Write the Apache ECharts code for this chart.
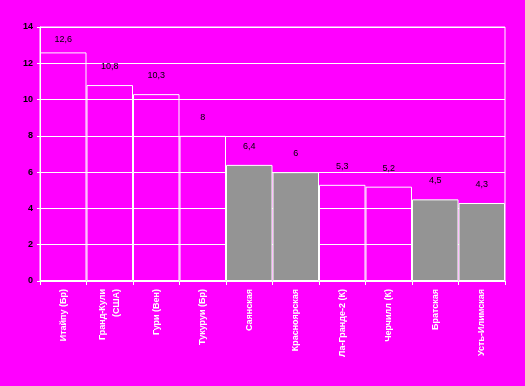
<!DOCTYPE html>
<html><head><meta charset="utf-8">
<script src="https://cdn.jsdelivr.net/npm/echarts@6/dist/echarts.min.js"></script>
<style>html,body{margin:0;padding:0;background:#ff00ff;}#c{width:525px;height:386px;}</style>
</head><body><div id="c"></div>
<script>
const categories = ["Итайпу (Бр)", "Гранд-Кули\n(США)", "Гури (Вен)", "Тукуруи (Бр)", "Саянская", "Красноярская", "Ла-Гранде-2 (К)", "Черчилл (К)", "Братская", "Усть-Илимская"];
const values = [12.6, 10.8, 10.3, 8, 6.4, 6, 5.3, 5.2, 4.5, 4.3];
const russian = [false, false, false, false, true, true, false, false, true, true];
const yTicks = [0, 2, 4, 6, 8, 10, 12, 14];

const chart = echarts.init(document.getElementById('c'));
const data = values.map((v, i) => ({
  value: v,
  itemStyle: { color: russian[i] ? '#949494' : 'rgba(0,0,0,0)', borderColor: '#ffffff', borderWidth: 1 },
  label: { distance: i === 0 ? 8 : 14 }
}));
chart.setOption({
  backgroundColor: '#ff00ff',
  animation: false,
  grid: { left: 40, right: 20, top: 27, bottom: 105, show: true, borderColor: '#ffffff', borderWidth: 1, backgroundColor: 'transparent' },
  xAxis: {
    type: 'category', data: categories,
    axisLine: { lineStyle: { color: '#ffffff', width: 1 } },
    axisTick: { show: true, alignWithLabel: false, length: 4, lineStyle: { color: '#ffffff' } },
    axisLabel: { rotate: 90, color: '#ffffff', fontSize: 9, fontFamily: 'Liberation Sans, Arial', fontWeight: 'bold', margin: 8, interval: 0, lineHeight: 14 }
  },
  yAxis: {
    type: 'value', min: yTicks[0], max: yTicks[yTicks.length - 1], interval: 2,
    axisLine: { show: true, lineStyle: { color: '#ffffff', width: 1 } },
    axisTick: { show: true, length: 3, lineStyle: { color: '#ffffff' } },
    splitLine: { show: true, lineStyle: { color: '#ffffff', width: 1 } },
    axisLabel: { color: '#000000', fontSize: 9, fontFamily: 'Liberation Sans, Arial', fontWeight: 'bold', margin: 7 }
  },
  series: [{
    type: 'bar', data: data, barCategoryGap: '0%',
    label: { show: true, position: 'top', color: '#000000', fontSize: 9, fontFamily: 'Liberation Sans, Arial',
      formatter: p => String(p.value).replace('.', ',') }
  }]
});
</script></body></html>
